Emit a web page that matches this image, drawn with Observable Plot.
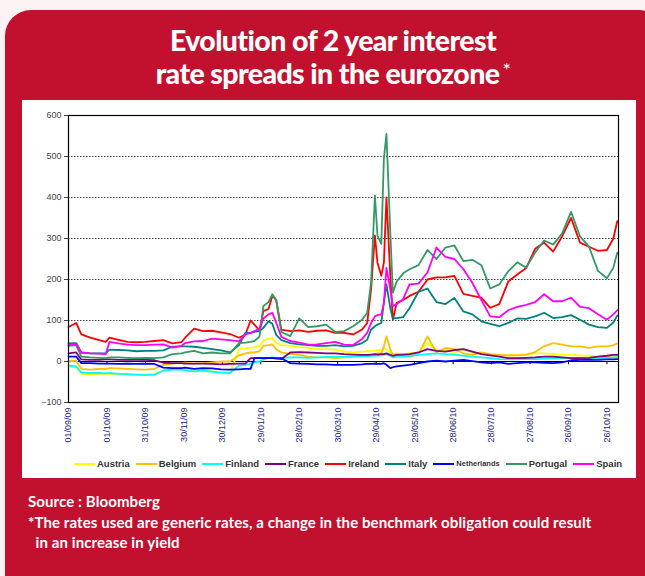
<!DOCTYPE html>
<html><head><meta charset="utf-8">
<script src="https://cdn.jsdelivr.net/npm/d3@7"></script>
<script src="https://cdn.jsdelivr.net/npm/@observablehq/plot@0.6"></script>
<style>
html,body{margin:0;padding:0;background:#fbf2f4;width:645px;height:576px;overflow:hidden;position:relative}
#panel{position:absolute;left:5px;top:10px;width:660px;height:596px;background:#c2112f;border-radius:26px}
#title{position:absolute;left:0;top:26px;width:666px;text-align:center;color:#fff;font-family:Lato,"Open Sans",sans-serif;font-weight:900;font-size:28.5px;line-height:29px;letter-spacing:-0.6px}
#title .ast{font-weight:400;font-size:20px;vertical-align:7px;margin-left:3px}
#box{position:absolute;left:22px;top:100px;width:614px;height:378px;background:#fff}
#chart{position:absolute;left:0;top:0}
#legend{position:absolute;left:52px;top:358px;display:flex;align-items:center;font-family:"Liberation Sans",Arial,sans-serif;font-weight:700;font-size:9.5px;color:#333;white-space:nowrap}
#legend .it{display:flex;align-items:center;margin-right:6px}
#legend .sw{display:inline-block;width:21px;height:2px;margin-right:2px}
#foot{position:absolute;left:28px;top:491px;color:#fff;font-family:Lato,"Open Sans",sans-serif;font-weight:700;font-size:15px;line-height:20.5px;letter-spacing:0.1px}
</style></head>
<body>
<div id="panel"></div>
<div id="title">Evolution of 2 year interest<br>rate spreads in the eurozone<span class="ast">*</span></div>
<div id="box"><div id="chart"></div><div id="legend"></div></div>
<div id="foot">Source : Bloomberg<br>*The rates used are generic rates, a change in the benchmark obligation could result<br>&nbsp;&nbsp;in an increase in yield</div>
<script>
const dates = ["2009-09-01","2009-09-07","2009-09-11","2009-09-18","2009-09-25","2009-09-30","2009-10-03","2009-10-10","2009-10-17","2009-10-24","2009-10-31","2009-11-07","2009-11-14","2009-11-21","2009-11-28","2009-12-01","2009-12-08","2009-12-15","2009-12-22","2009-12-29","2010-01-05","2010-01-12","2010-01-17","2010-01-21","2010-01-24","2010-01-28","2010-01-31","2010-02-04","2010-02-07","2010-02-10","2010-02-14","2010-02-21","2010-02-28","2010-03-07","2010-03-14","2010-03-21","2010-03-28","2010-04-04","2010-04-11","2010-04-18","2010-04-22","2010-04-25","2010-04-28","2010-04-30","2010-05-03","2010-05-05","2010-05-07","2010-05-10","2010-05-12","2010-05-15","2010-05-20","2010-05-25","2010-06-01","2010-06-08","2010-06-15","2010-06-22","2010-06-29","2010-07-06","2010-07-13","2010-07-20","2010-07-27","2010-08-03","2010-08-10","2010-08-17","2010-08-24","2010-08-31","2010-09-07","2010-09-14","2010-09-21","2010-09-28","2010-10-05","2010-10-12","2010-10-19","2010-10-26","2010-10-31","2010-11-03"];

const austria = [-12,-14,-30,-32,-30,-30,-31,-30,-31,-33,-32,-30,-22,-16,-18,-20,-22,-18,-24,-26,-28,30,32,33,35,38,52,55,57,45,40,38,35,33,30,30,29,24,22,24,25,25,26,28,27,32,30,22,18,20,18,20,22,45,28,28,22,30,22,20,16,15,15,16,18,20,20,18,16,16,15,14,12,12,12,13];
const belgium = [0,2,-18,-20,-18,-18,-16,-17,-18,-19,-20,-18,-8,-5,-4,-3,-5,-4,-2,0,0,15,20,22,22,25,38,40,42,30,22,18,16,12,10,10,8,10,12,14,14,15,18,20,20,37,61,30,16,18,14,12,18,61,22,33,30,20,16,22,18,16,15,15,16,23,37,45,41,37,37,33,37,37,40,44];
const finland = [-10,-12,-27,-28,-28,-29,-28,-30,-31,-32,-33,-32,-22,-20,-20,-22,-24,-22,-25,-27,-28,-10,-8,-5,-2,0,5,8,10,8,8,10,10,9,10,11,12,12,12,13,13,14,14,15,15,16,18,14,10,12,12,14,16,18,20,18,17,14,12,10,8,6,5,5,6,6,7,8,8,8,9,8,8,9,10,10];
const france = [20,22,5,4,4,5,5,4,4,4,4,3,-3,-4,-4,-5,-5,-5,-6,-7,-6,-5,-5,8,8,8,8,8,8,7,6,22,23,22,21,20,20,18,17,16,16,17,18,17,18,18,20,16,14,16,17,18,22,30,26,24,28,30,24,18,15,12,8,8,9,10,12,12,10,8,8,9,12,14,16,16];
const ireland = [84,94,66,58,52,48,58,53,48,47,48,50,52,44,47,58,80,74,75,71,67,58,66,100,90,76,123,128,160,150,78,74,76,72,75,76,70,70,66,78,94,176,307,241,209,241,400,209,102,143,150,160,170,200,205,205,209,165,160,156,131,140,195,212,228,275,290,268,305,350,290,280,270,272,300,342];
const italy = [44,45,22,20,20,20,29,28,27,25,26,26,27,36,37,37,36,33,30,27,22,40,70,70,72,74,82,98,92,65,52,45,42,40,38,38,40,37,38,45,53,78,86,90,94,143,188,130,105,106,108,130,170,178,145,140,155,122,115,98,92,86,94,105,104,110,119,106,108,113,102,90,84,82,95,112];
const netherlands = [12,12,-4,-4,-5,-5,-5,-6,-5,-6,-5,-6,-15,-16,-16,-15,-18,-16,-17,-19,-20,-19,-18,-18,8,8,8,9,8,8,8,-4,-5,-6,-7,-7,-8,-8,-8,-7,-6,-6,-5,-6,-6,-4,-8,-16,-14,-12,-10,-8,-4,0,2,0,2,4,1,-2,-4,-2,-6,-4,-2,-2,-3,-4,-2,3,4,4,4,5,5,6];
const portugal = [38,40,12,10,9,8,10,10,9,8,9,8,10,18,20,22,26,20,22,20,20,45,46,48,50,61,135,145,164,150,72,62,105,84,86,90,72,74,86,102,119,192,405,307,287,495,555,315,168,195,215,225,235,272,250,278,283,245,248,235,178,188,220,242,229,266,295,285,312,365,305,280,221,203,229,265];
const spain = [40,42,22,20,19,18,48,44,41,40,40,41,42,34,38,45,49,50,56,54,52,49,66,70,74,80,105,115,119,95,60,50,46,41,42,45,48,41,40,55,70,94,110,113,115,143,228,176,135,140,152,188,190,217,278,255,250,225,192,150,110,108,125,133,138,145,164,147,147,156,133,130,115,102,115,125];

const seriesNames = ["Austria","Belgium","Finland","France","Ireland","Italy","Netherlands","Portugal","Spain"];
const seriesColors = ["#ffff00","#ffc000","#00ffff","#800080","#ff0000","#008080","#0000ff","#339966","#ff00ff"];
const seriesValues = [austria,belgium,finland,france,ireland,italy,netherlands,portugal,spain];
const yTicks = [-100,0,100,200,300,400,500,600];
const tickDates = ["2009-09-01","2009-10-01","2009-10-31","2009-11-30","2009-12-30","2010-01-29","2010-02-28","2010-03-30","2010-04-29","2010-05-29","2010-06-28","2010-07-28","2010-08-27","2010-09-26","2010-10-26"];

const parse = d3.utcParse("%Y-%m-%d");
const rows = [];
seriesNames.forEach((name, i) => {
  seriesValues[i].forEach((v, j) => rows.push({series: name, date: parse(dates[j]), value: v}));
});
const ticks = tickDates.map(parse);

const chart = Plot.plot({
  width: 614, height: 352,
  marginLeft: 46, marginRight: 18, marginTop: 15, marginBottom: 50,
  style: {fontFamily: "'Liberation Sans', Arial, sans-serif", fontSize: "9px", background: "white"},
  x: {type: "utc", domain: [parse("2009-09-01"), parse("2010-11-04")], label: null},
  y: {domain: [-100, 600], label: null},
  color: {domain: seriesNames, range: seriesColors},
  marks: [
    Plot.gridY(yTicks.filter(v => v > 0 && v < 600), {stroke: "#444", strokeOpacity: 1, strokeDasharray: "1.5,1.5"}),
    Plot.ruleY([0], {stroke: "black", strokeWidth: 1.2}),
    Plot.ruleX(ticks, {x: d => d, y1: 0, y2: -8, stroke: "black"}),
    Plot.line(rows, {x: "date", y: "value", z: "series", stroke: "series", strokeWidth: 1.8}),
    Plot.frame({stroke: "black", strokeWidth: 1.2}),
    Plot.axisY(yTicks, {tickSize: 4, tickPadding: 3, color: "#444", fontSize: 9, label: null}),
    Plot.axisX(ticks, {tickSize: 0, tickRotate: -90, tickPadding: 5, tickFormat: d3.utcFormat("%d/%m/%y"), color: "#22228a", fontSize: 9, label: null})
  ]
});
document.getElementById("chart").appendChild(chart);

const legend = document.getElementById("legend");
seriesNames.forEach((name, i) => {
  const it = document.createElement("span");
  it.className = "it";
  const sw = document.createElement("span");
  sw.className = "sw";
  sw.style.background = seriesColors[i];
  const tx = document.createElement("span");
  tx.textContent = name;
  if (name === "Netherlands") tx.style.fontSize = "7.5px";
  it.appendChild(sw); it.appendChild(tx);
  legend.appendChild(it);
});
</script>
</body></html>
